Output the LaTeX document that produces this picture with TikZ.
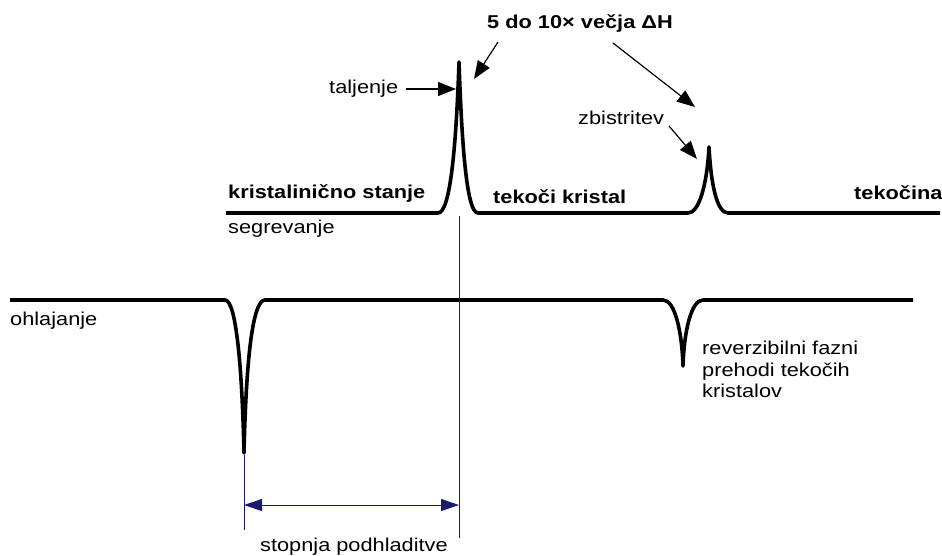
\documentclass[tikz,border=0pt]{standalone}
\usepackage{fontspec}
\setmainfont{Liberation Sans}[FakeStretch=1.17]
\usetikzlibrary{arrows.meta}
\definecolor{dimnavy}{HTML}{1A1A70}
\tikzset{
  curve/.style={line width=3.6pt, line join=round, line cap=butt},
  lbl/.style={inner sep=0pt, anchor=base west, font=\fontsize{18.6pt}{21.5pt}\selectfont},
  blbl/.style={lbl, font=\fontsize{18.6pt}{21.5pt}\selectfont\bfseries},
  pointer/.style={line width=1.2pt, -{Triangle[length=18pt,width=14pt]}},
  guide/.style={dimnavy, line width=0.9pt},
  dimarrow/.style={dimnavy, line width=1pt, {Triangle[length=18pt,width=12pt]}-{Triangle[length=18pt,width=12pt]}}
}
\begin{document}
\begin{tikzpicture}[x=1pt,y=-1pt]
\useasboundingbox (0,0) rectangle (942,555);
% heating curve
\draw[curve] (226,213) -- (438,213) .. controls (450,213) and (456,150) .. (459,62)
  .. controls (462,150) and (467,213) .. (478,213) -- (688,213)
  .. controls (699,213) and (707,185) .. (709,147)
  .. controls (711,185) and (717,213) .. (728,213) -- (940,213);
% cooling curve
\draw[curve] (10,300) -- (225,300) .. controls (236,300) and (242,365) .. (244,453)
  .. controls (246,365) and (252,300) .. (265,300) -- (663,300)
  .. controls (675,300) and (682,332) .. (683,366)
  .. controls (684,332) and (691,300) .. (703,300) -- (913,300);
% labels
\node[blbl] (title) at (487,28) {5 do 10× večja ΔH};
\node[lbl] (talj) at (329,93) {taljenje};
\node[lbl] (zbis) at (578,124) {zbistritev};
\node[blbl] (kris) at (228,198) {kristalinično stanje};
\node[lbl] (segr) at (228,233) {segrevanje};
\node[blbl] (tekk) at (493,203) {tekoči kristal};
\node[blbl] (teka) at (854,199) {tekočina};
\node[lbl] (ohla) at (10,325) {ohlajanje};
\node[lbl, align=left, anchor=north west] (rev) at (702,341) {reverzibilni fazni\\prehodi tekočih\\kristalov};
\node[lbl] (stop) at (260,551) {stopnja podhladitve};
% pointer arrows
\coordinate (t1s) at (498,42);
\coordinate (t1e) at (474,79);
\coordinate (t2s) at (613,43);
\coordinate (t2e) at (695,107);
\coordinate (tjs) at (406,89);
\coordinate (tje) at (456,89);
\coordinate (zbs) at (669,126);
\coordinate (zbe) at (697,159);
\draw[pointer] (t1s) -- (t1e);
\draw[pointer] (t2s) -- (t2e);
\draw[pointer] (tjs) -- (tje);
\draw[pointer] (zbs) -- (zbe);
% dimension lines
\coordinate (g1t) at (459,216);
\coordinate (g1b) at (459,538);
\coordinate (g2t) at (244,455);
\coordinate (g2b) at (244,530);
\draw[guide] (g1t) -- (g1b);
\draw[guide] (g2t) -- (g2b);
\coordinate (da) at (244,505);
\coordinate (db) at (459,505);
\draw[dimarrow] (da) -- (db);
\end{tikzpicture}
\end{document}
